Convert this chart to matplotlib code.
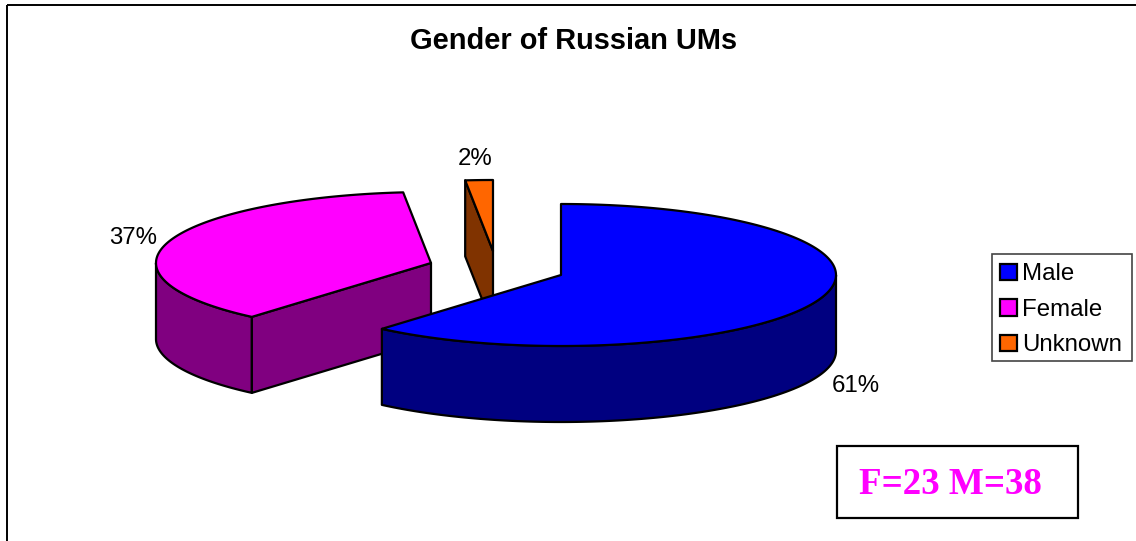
# GENDER OF RUSSIAN UMs - pie 3D con porciones separadas
import numpy as np
import matplotlib
matplotlib.use('Agg')
import matplotlib.pyplot as plt
from matplotlib.patches import Patch, Polygon, Rectangle

# DATOS
categorias = ['Male', 'Female', 'Unknown']
valores = [38, 23, 1]
etiquetas = ['61%', '37%', '2%']
colores = ['#0000FF', '#FF00FF', '#FF6600']
colores_oscuros = ['#000080', '#800080', '#803300']
nota = 'F=23 M=38'
titulo = 'Gender of Russian UMs'

# GEOMETRIA (pixeles de la imagen)
centros = [(561, 275), (431, 263), (493, 251)]
rx, ry = 275, 71
prof = 76
pos_etiquetas = [(856, 386), (133, 238), (475, 159)]

plt.rcParams['font.family'] = ['Liberation Sans', 'DejaVu Sans']
px = 0.72  # 1 pixel en puntos a dpi 100

fig = plt.figure(figsize=(11.36, 5.41), dpi=100)
ax = fig.add_axes([0, 0, 1, 1])
ax.set_xlim(0, 1136)
ax.set_ylim(541, 0)
ax.axis('off')


def arco(c, a1, a2, dy=0):
    # angulos en grados desde las 12 en sentido horario
    t = np.radians(np.linspace(a1, a2, 200))
    return np.column_stack([c[0] + rx * np.sin(t), c[1] - ry * np.cos(t) + dy])


# marco del grafico
ax.add_patch(Rectangle((7, 5), 1140, 550, fill=False, ec='black', lw=1.4))

# angulos de cada porcion
bordes = np.concatenate([[0], np.cumsum(valores)]) / sum(valores) * 360

# se dibuja de atras hacia adelante
for i in [2, 1, 0]:
    a1, a2 = bordes[i], bordes[i + 1]
    c = centros[i]
    sup = arco(c, a1, a2)
    kw = dict(ec='black', lw=1.6, joinstyle='round')

    # pared exterior, solo la mitad de abajo se ve
    b1, b2 = max(a1, 90), min(a2, 270)
    if b2 > b1:
        arr = arco(c, b1, b2)
        aba = arco(c, b1, b2, prof)
        ax.add_patch(Polygon(np.vstack([arr, aba[::-1]]), fc=colores_oscuros[i], **kw))

    # cara del corte que mira al frente
    if i > 0:
        p = sup[0]
        ax.add_patch(Polygon([c, p, (p[0], p[1] + prof), (c[0], c[1] + prof)],
                             fc=colores_oscuros[i], **kw))

    ax.add_patch(Polygon(np.vstack([[c], sup]), fc=colores[i], **kw))

# ETIQUETAS
for (x, y), txt in zip(pos_etiquetas, etiquetas):
    ax.text(x, y, txt, ha='center', va='center', fontsize=24 * px, color='black')

ax.text(574, 41, titulo, ha='center', va='center', fontsize=29 * px,
        fontweight='bold', color='black')

# LEYENDA
ax.add_patch(Rectangle((992, 254), 140, 107, fc='white', ec='#444444', lw=1.2))
handles = [Patch(fc=col, ec='black', lw=1.6, label=cat) for col, cat in zip(colores, categorias)]
ax.legend(handles=handles, loc='upper left', bbox_to_anchor=(992, 255),
          bbox_transform=ax.transData, borderaxespad=0, fontsize=24 * px,
          handlelength=0.68, handleheight=0.68, handletextpad=0.22,
          labelspacing=0.56, borderpad=0.35, frameon=False)

# CUADRO DE NOTA
ax.add_patch(Rectangle((837, 446), 241, 72, fc='white', ec='black', lw=1.6))
ax.text(950.5, 484, nota, ha='center', va='center', fontsize=37 * px, fontweight='bold',
        color='#FF00FF', family=['Liberation Serif', 'DejaVu Serif'])

fig.savefig('out.png', dpi=100)
